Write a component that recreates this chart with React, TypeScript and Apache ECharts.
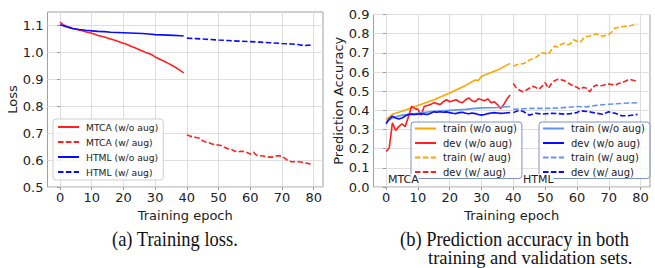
import React, { useEffect, useRef } from "react";
import * as echarts from "echarts";

// ---------- tick labels ----------
const epochTicks = [0, 10, 20, 30, 40, 50, 60, 70, 80];
const lossTicks = [0.5, 0.6, 0.7, 0.8, 0.9, 1.0, 1.1];

// ---------- (a) training loss ----------
const mtcaLossNoAugStart = 0;
const mtcaLossNoAug = [
  1.112, 1.103, 1.097, 1.093, 1.089, 1.086, 1.083, 1.08, 1.077, 1.074,
  1.071, 1.067, 1.063, 1.06, 1.057, 1.053, 1.05, 1.046, 1.042, 1.038,
  1.034, 1.03, 1.025, 1.02, 1.015, 1.01, 1.005, 1.0, 0.996, 0.991,
  0.983, 0.977, 0.972, 0.966, 0.96, 0.954, 0.947, 0.94, 0.932, 0.924,
];
const mtcaLossAugStart = 40;
const mtcaLossAug = [
  0.694, 0.689, 0.686, 0.684, 0.681, 0.672, 0.667, 0.664, 0.66, 0.656,
  0.656, 0.653, 0.647, 0.642, 0.64, 0.634, 0.63, 0.633, 0.632, 0.628,
  0.622, 0.629, 0.618, 0.616, 0.615, 0.613, 0.611, 0.611, 0.615, 0.616,
  0.614, 0.606, 0.597, 0.594, 0.594, 0.594, 0.593, 0.59, 0.588, 0.585,
];
const htmlLossNoAugEpochs = [0, 1, 2, 3, 4, 5, 6, 7, 8, 9, 10, 12, 14, 16, 18, 20, 22, 24, 26, 28, 30, 32, 34, 36, 38, 39];
const htmlLossNoAug = [
  1.103, 1.099, 1.095, 1.092, 1.089, 1.087, 1.085, 1.084, 1.082, 1.081, 1.08,
  1.078, 1.077, 1.075, 1.074, 1.073, 1.072, 1.071, 1.07, 1.068, 1.066, 1.065,
  1.064, 1.063, 1.062, 1.061,
];
const htmlLossAugEpochs = [40, 43, 46, 50, 53, 56, 60, 63, 66, 70, 73, 75, 77, 79];
const htmlLossAug = [1.053, 1.051, 1.049, 1.046, 1.044, 1.042, 1.04, 1.038, 1.036, 1.033, 1.031, 1.029, 1.025, 1.027];

// ---------- (b) prediction accuracy ----------
const mtcaTrainNoAugEpochs = [0, 2, 5, 10, 15, 20, 25, 28, 29, 30, 35, 39];
const mtcaTrainNoAug = [0.35, 0.38, 0.395, 0.425, 0.455, 0.49, 0.53, 0.558, 0.556, 0.578, 0.61, 0.645];
const mtcaDevNoAugStart = 0;
const mtcaDevNoAug = [
  0.185, 0.205, 0.335, 0.295, 0.315, 0.33, 0.315, 0.365, 0.42, 0.41,
  0.405, 0.375, 0.42, 0.425, 0.43, 0.44, 0.435, 0.43, 0.445, 0.455,
  0.445, 0.45, 0.455, 0.445, 0.44, 0.455, 0.465, 0.45, 0.445, 0.46,
  0.455, 0.45, 0.46, 0.44, 0.445, 0.43, 0.41, 0.43, 0.46, 0.48,
];
const mtcaTrainAugStart = 40;
const mtcaTrainAug = [
  0.63, 0.638, 0.642, 0.643, 0.65, 0.662, 0.668, 0.675, 0.688, 0.7,
  0.698, 0.692, 0.715, 0.735, 0.73, 0.745, 0.75, 0.742, 0.748, 0.768,
  0.76, 0.755, 0.775, 0.785, 0.788, 0.792, 0.8, 0.792, 0.787, 0.792,
  0.795, 0.81, 0.83, 0.833, 0.836, 0.838, 0.84, 0.843, 0.847, 0.85,
];
const mtcaDevAugStart = 40;
const mtcaDevAug = [
  0.54, 0.515, 0.505, 0.497, 0.505, 0.515, 0.525, 0.52, 0.51, 0.525,
  0.545, 0.515, 0.54, 0.555, 0.562, 0.56, 0.555, 0.545, 0.535, 0.527,
  0.52, 0.51, 0.52, 0.515, 0.497, 0.52, 0.532, 0.527, 0.53, 0.535,
  0.537, 0.535, 0.53, 0.54, 0.544, 0.55, 0.558, 0.56, 0.556, 0.553,
];
const htmlTrainNoAugEpochs = [0, 2, 5, 10, 15, 20, 25, 28, 30, 35, 39];
const htmlTrainNoAug = [0.34, 0.36, 0.375, 0.385, 0.395, 0.4, 0.405, 0.41, 0.413, 0.415, 0.42];
const htmlDevNoAugStart = 0;
const htmlDevNoAug = [
  0.33, 0.355, 0.37, 0.36, 0.355, 0.36, 0.37, 0.378, 0.38, 0.378,
  0.38, 0.382, 0.38, 0.378, 0.385, 0.392, 0.39, 0.393, 0.39, 0.392,
  0.388, 0.385, 0.383, 0.388, 0.39, 0.385, 0.382, 0.386, 0.383, 0.378,
  0.375, 0.378, 0.383, 0.386, 0.388, 0.386, 0.384, 0.385, 0.387, 0.388,
];
const htmlTrainAugEpochs = [40, 43, 46, 50, 55, 60, 63, 66, 70, 75, 79];
const htmlTrainAug = [0.405, 0.408, 0.41, 0.41, 0.413, 0.42, 0.418, 0.426, 0.432, 0.437, 0.44];
const htmlDevAugEpochs = [40, 41, 42, 43, 44, 45, 46, 47, 48, 49, 50, 52, 54, 56, 58, 60, 61, 62, 64, 66, 68, 70, 72, 74, 76, 78, 79];
const htmlDevAug = [
  0.388, 0.395, 0.4, 0.395, 0.385, 0.375, 0.38, 0.385, 0.383, 0.38, 0.382,
  0.384, 0.383, 0.38, 0.383, 0.388, 0.398, 0.396, 0.392, 0.385, 0.38, 0.392,
  0.385, 0.372, 0.372, 0.376, 0.379,
];

const RED = "#ff1f1f";
const BLUE = "#0a0aff";
const ORANGE = "#ffa500";
const LIGHTBLUE = "#6495ed";
const SANS = "DejaVu Sans";
const SERIF = "Liberation Serif";
const TICK_FS = 13;

const fromStart = (start: number, vals: number[]) => vals.map((v, i) => [start + i, v]);
const zipPairs = (xs: number[], vals: number[]) => vals.map((v, i) => [xs[i], v]);

function lineSeries(name: string, idx: number, data: number[][], color: string, dashed: boolean) {
  return {
    type: "line",
    name,
    xAxisIndex: idx,
    yAxisIndex: idx,
    data,
    symbol: "none",
    showSymbol: false,
    lineStyle: { color, width: 1.6, type: dashed ? [5.5, 2.4] : "solid" },
    itemStyle: { color },
    z: 3,
  };
}

function xAxisCfg(gridIndex: number) {
  return {
    type: "value",
    gridIndex,
    min: -3.95,
    max: 82.95,
    splitNumber: 9,
    axisLine: { show: false },
    axisTick: { show: true, length: 3, customValues: epochTicks, lineStyle: { color: "#999" } },
    axisLabel: {
      customValues: epochTicks,
      margin: 4,
      fontSize: TICK_FS,
      fontFamily: SANS,
      color: "#222",
      formatter: (v: number) => (Math.abs(v % 10) < 1e-6 ? String(v) : ""),
    },
    splitLine: { show: true, lineStyle: { color: "#dedede", width: 1 } },
    name: "Training epoch",
    nameLocation: "middle",
    nameGap: 15,
    nameTextStyle: { fontSize: TICK_FS, fontFamily: SANS, color: "#222" },
  };
}

const legendBase = {
  orient: "vertical",
  itemWidth: 21,
  itemHeight: 10,
  borderWidth: 1,
  borderRadius: 3,
  backgroundColor: "rgba(255,255,255,0.8)",
  selectedMode: false,
  itemStyle: { color: "rgba(0,0,0,0)", borderColor: "rgba(0,0,0,0)", borderWidth: 0, opacity: 0 },
  z: 10,
};

export default function App() {
  const ref = useRef<HTMLDivElement>(null);
  useEffect(() => {
    if (!ref.current) return;
    const chart = echarts.init(ref.current, undefined, { renderer: "svg" });
    const strip = (n: string) => n.replace(/^(MTCA|HTML) /, "");
    const option: any = {
      animation: false,
      backgroundColor: "#fff",
      grid: [
        { left: 47.5, top: 12, width: 275.5, height: 175, show: true, borderColor: "#a0a0a0", borderWidth: 1 },
        { left: 373.5, top: 14.5, width: 276.5, height: 172.5, show: true, borderColor: "#a0a0a0", borderWidth: 1 },
      ],
      xAxis: [xAxisCfg(0), xAxisCfg(1)],
      yAxis: [
        {
          type: "value",
          gridIndex: 0,
          min: 0.5,
          max: 1.15,
          interval: 0.1,
          axisLine: { show: false },
          axisTick: { show: true, length: 3, customValues: lossTicks, lineStyle: { color: "#999" } },
          axisLabel: {
            customValues: lossTicks,
            margin: 4,
            fontSize: TICK_FS,
            fontFamily: SANS,
            color: "#222",
            formatter: (v: number) => (v > 1.12 ? "" : v.toFixed(1)),
          },
          splitLine: { show: true, lineStyle: { color: "#dedede", width: 1 } },
          name: "Loss",
          nameLocation: "middle",
          nameGap: 26,
          nameTextStyle: { fontSize: TICK_FS, fontFamily: SANS, color: "#222" },
        },
        {
          type: "value",
          gridIndex: 1,
          min: 0,
          max: 0.9,
          interval: 0.1,
          axisLine: { show: false },
          axisTick: { show: true, length: 3, lineStyle: { color: "#999" } },
          axisLabel: {
            margin: 4,
            fontSize: TICK_FS,
            fontFamily: SANS,
            color: "#222",
            formatter: (v: number) => v.toFixed(1),
          },
          splitLine: { show: true, lineStyle: { color: "#dedede", width: 1 } },
          name: "Prediction Accuracy",
          nameLocation: "middle",
          nameGap: 26,
          nameTextStyle: { fontSize: TICK_FS, fontFamily: SANS, color: "#222" },
        },
      ],
      legend: [
        {
          ...legendBase,
          left: 53,
          top: 119,
          itemGap: 5,
          padding: [3, 5, 3, 4],
          borderColor: "#cfcfcf",
          data: ["MTCA (w/o aug)", "MTCA (w/ aug)", "HTML (w/o aug)", "HTML (w/ aug)"],
          textStyle: { fontSize: 9.2, fontFamily: SANS, color: "#222", lineHeight: 10, padding: [0, 0, 0, 2] },
        },
        {
          ...legendBase,
          left: 411,
          top: 122,
          itemGap: 4.5,
          padding: [1.5, 5, 1.5, 3],
          borderColor: "#8092c0",
          data: ["MTCA train (w/o aug)", "MTCA dev (w/o aug)", "MTCA train (w/ aug)", "MTCA dev (w/ aug)"],
          formatter: strip,
          textStyle: { fontSize: 10, fontFamily: SANS, color: "#222", lineHeight: 10, padding: [0, 0, 0, 2] },
        },
        {
          ...legendBase,
          left: 539,
          top: 122,
          itemGap: 4.5,
          padding: [1.5, 5, 1.5, 3],
          borderColor: "#8092c0",
          data: ["HTML train (w/o aug)", "HTML dev (w/o aug)", "HTML train (w/ aug)", "HTML dev (w/ aug)"],
          formatter: strip,
          textStyle: { fontSize: 10, fontFamily: SANS, color: "#222", lineHeight: 10, padding: [0, 0, 0, 2] },
        },
      ],
      series: [
        lineSeries("MTCA (w/o aug)", 0, fromStart(mtcaLossNoAugStart, mtcaLossNoAug), RED, false),
        lineSeries("MTCA (w/ aug)", 0, fromStart(mtcaLossAugStart, mtcaLossAug), RED, true),
        lineSeries("HTML (w/o aug)", 0, zipPairs(htmlLossNoAugEpochs, htmlLossNoAug), BLUE, false),
        lineSeries("HTML (w/ aug)", 0, zipPairs(htmlLossAugEpochs, htmlLossAug), BLUE, true),

        lineSeries("MTCA train (w/o aug)", 1, zipPairs(mtcaTrainNoAugEpochs, mtcaTrainNoAug), ORANGE, false),
        lineSeries("MTCA dev (w/o aug)", 1, fromStart(mtcaDevNoAugStart, mtcaDevNoAug), RED, false),
        lineSeries("MTCA train (w/ aug)", 1, fromStart(mtcaTrainAugStart, mtcaTrainAug), ORANGE, true),
        lineSeries("MTCA dev (w/ aug)", 1, fromStart(mtcaDevAugStart, mtcaDevAug), RED, true),
        lineSeries("HTML train (w/o aug)", 1, zipPairs(htmlTrainNoAugEpochs, htmlTrainNoAug), LIGHTBLUE, false),
        lineSeries("HTML dev (w/o aug)", 1, fromStart(htmlDevNoAugStart, htmlDevNoAug), BLUE, false),
        lineSeries("HTML train (w/ aug)", 1, zipPairs(htmlTrainAugEpochs, htmlTrainAug), LIGHTBLUE, true),
        lineSeries("HTML dev (w/ aug)", 1, zipPairs(htmlDevAugEpochs, htmlDevAug), BLUE, true),
      ],
      graphic: [
        {
          type: "text",
          x: 388,
          y: 183,
          z: 100,
          style: {
            text: "MTCA",
            x: 0,
            y: -3.6,
            font: `11px '${SANS}'`,
            fill: "#222",
            textVerticalAlign: "middle",
            backgroundColor: "rgba(255,255,255,0.85)",
          },
        },
        {
          type: "text",
          x: 523,
          y: 183,
          z: 100,
          style: {
            text: "HTML",
            x: 0,
            y: -3.6,
            font: `11px '${SANS}'`,
            fill: "#222",
            textVerticalAlign: "middle",
            backgroundColor: "rgba(255,255,255,0.85)",
          },
        },
        {
          type: "text",
          x: 112,
          y: 245,
          scaleY: 1.1,
          style: { text: "(a) Training loss.", x: 0, y: -5.6, font: `18.5px '${SERIF}'`, fill: "#111", textVerticalAlign: "middle" },
        },
        {
          type: "text",
          x: 400,
          y: 245,
          scaleY: 1.1,
          style: { text: "(b) Prediction accuracy in both", x: 0, y: -5.6, font: `18.5px '${SERIF}'`, fill: "#111", textVerticalAlign: "middle" },
        },
        {
          type: "text",
          x: 428,
          y: 263,
          scaleY: 1.05,
          style: { text: "training and validation sets.", x: 0, y: -5.6, font: `18.5px '${SERIF}'`, fill: "#111", textVerticalAlign: "middle" },
        },
      ],
    };
    chart.setOption(option);
    return () => chart.dispose();
  }, []);
  return (
    <div
      ref={ref}
      style={{ position: "fixed", left: 0, top: 0, width: 655, height: 268, background: "#fff" }}
    />
  );
}
